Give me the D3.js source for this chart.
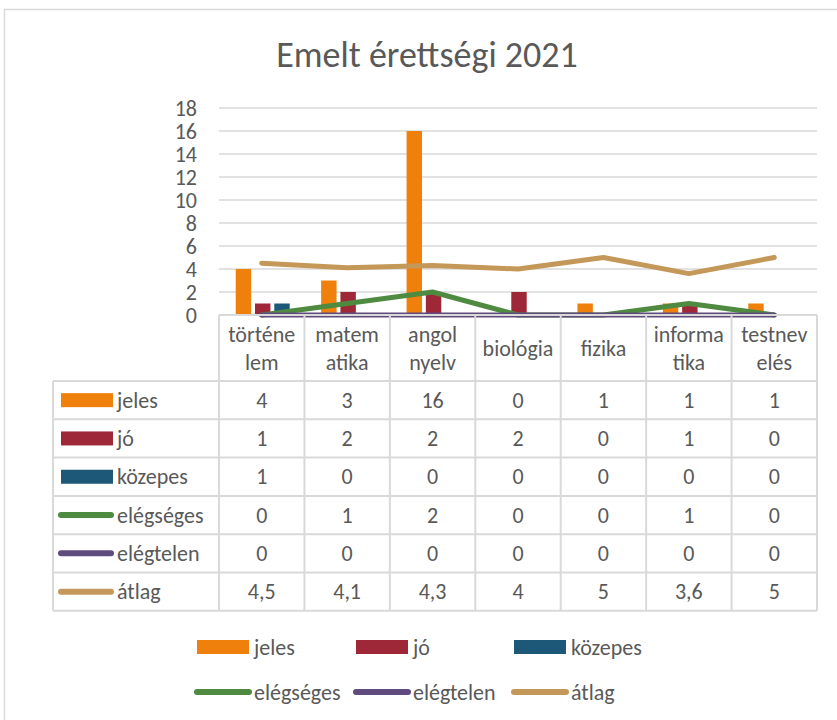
<!DOCTYPE html>
<html lang="hu">
<head>
<meta charset="utf-8">
<title>Emelt érettségi 2021</title>
<script src="https://cdn.jsdelivr.net/npm/d3@7"></script>
<style>
  body { margin: 0; background: #fff; }
  svg text { font-family: Carlito, Calibri, Lato, "Liberation Sans", sans-serif; fill: #595959; }
</style>
</head>
<body>
<svg id="chart" width="837" height="720"></svg>
<script>
// subjects, with the way Excel wraps them under the axis
var categories = ["történelem", "matematika", "angol nyelv", "biológia", "fizika", "informatika", "testnevelés"];
var categoryLines = [["történe", "lem"], ["matem", "atika"], ["angol", "nyelv"], ["biológia"], ["fizika"], ["informa", "tika"], ["testnev", "elés"]];

var jeles = [4, 3, 16, 0, 1, 1, 1];
var jo = [1, 2, 2, 2, 0, 1, 0];
var kozepes = [1, 0, 0, 0, 0, 0, 0];
var elegseges = [0, 1, 2, 0, 0, 1, 0];
var elegtelen = [0, 0, 0, 0, 0, 0, 0];
var atlag = [4.5, 4.1, 4.3, 4, 5, 3.6, 5];

var yTicks = [0, 2, 4, 6, 8, 10, 12, 14, 16, 18];

var barSeries = [
  { name: "jeles", values: jeles, color: "#f0800c" },
  { name: "jó", values: jo, color: "#9f2838" },
  { name: "közepes", values: kozepes, color: "#1e5878" }
];
var lineSeries = [
  { name: "elégséges", values: elegseges, color: "#4e8a40" },
  { name: "elégtelen", values: elegtelen, color: "#5f4b7e" },
  { name: "átlag", values: atlag, color: "#c49858" }
];
var allSeries = barSeries.map(function(s) { return Object.assign({ type: "bar" }, s); })
  .concat(lineSeries.map(function(s) { return Object.assign({ type: "line" }, s); }));

var svg = d3.select("#chart");
var grid = "#d9d9d9";
var fs = "22px";

// chart frame
svg.append("rect")
  .attr("x", 4.5).attr("y", 9.5)
  .attr("width", 860).attr("height", 760)
  .attr("fill", "none").attr("stroke", grid).attr("stroke-width", 1.5);

svg.append("text")
  .attr("x", 427).attr("y", 67)
  .attr("text-anchor", "middle")
  .style("font-size", "36px")
  .text("Emelt érettségi 2021");

var x = d3.scaleBand().domain(categories).range([219, 817]);
var y = d3.scaleLinear().domain([0, 18]).range([315, 108]);
var xInner = d3.scaleBand().domain(barSeries.map(function(s) { return s.name; }))
  .range([-26, 28]).paddingInner(0.2);

// gridlines and value labels
svg.append("g").selectAll("line").data(yTicks.slice(1)).join("line")
  .attr("x1", 219).attr("x2", 817)
  .attr("y1", function(d) { return y(d); }).attr("y2", function(d) { return y(d); })
  .attr("stroke", grid).attr("stroke-width", 1.5);

svg.append("g").selectAll("text").data(yTicks).join("text")
  .attr("x", 197).attr("y", function(d) { return y(d); })
  .attr("dy", "0.35em")
  .attr("text-anchor", "end")
  .style("font-size", fs)
  .text(function(d) { return d; });

// bars
barSeries.forEach(function(s) {
  svg.append("g").selectAll("rect").data(s.values).join("rect")
    .attr("x", function(d, i) { return x(categories[i]) + x.bandwidth() / 2 + xInner(s.name); })
    .attr("width", xInner.bandwidth())
    .attr("y", function(d) { return y(d); })
    .attr("height", function(d) { return y(0) - y(d); })
    .attr("fill", s.color);
});

// lines
var line = d3.line()
  .x(function(d, i) { return x(categories[i]) + x.bandwidth() / 2; })
  .y(function(d) { return y(d); });

lineSeries.forEach(function(s) {
  svg.append("path")
    .datum(s.values)
    .attr("d", line)
    .attr("fill", "none")
    .attr("stroke", s.color)
    .attr("stroke-width", 5)
    .attr("stroke-linecap", "round")
    .attr("stroke-linejoin", "round");
});

// data table under the axis
var headTop = 315, rowTop = 381, rowH = 38.3;
var tableLeft = 53, tableRight = 817;
var rowsBottom = rowTop + rowH * allSeries.length;
var table = svg.append("g");

var hLines = [{ y: headTop, x1: 219 }];
allSeries.forEach(function(s, i) { hLines.push({ y: rowTop + rowH * i, x1: tableLeft }); });
hLines.push({ y: rowsBottom, x1: tableLeft });
table.selectAll("line.h").data(hLines).join("line").attr("class", "h")
  .attr("x1", function(d) { return d.x1; }).attr("x2", tableRight)
  .attr("y1", function(d) { return d.y; }).attr("y2", function(d) { return d.y; })
  .attr("stroke", grid).attr("stroke-width", 2);

var vLines = categories.map(function(c) { return { x: x(c), y1: headTop }; });
vLines.push({ x: tableRight, y1: headTop });
vLines.push({ x: tableLeft, y1: rowTop });
table.selectAll("line.v").data(vLines).join("line").attr("class", "v")
  .attr("x1", function(d) { return d.x; }).attr("x2", function(d) { return d.x; })
  .attr("y1", function(d) { return d.y1; }).attr("y2", rowsBottom)
  .attr("stroke", grid).attr("stroke-width", 2);

// category headers
categoryLines.forEach(function(lines, i) {
  var cx = x(categories[i]) + x.bandwidth() / 2;
  var t = table.append("text")
    .attr("x", cx)
    .attr("text-anchor", "middle")
    .style("font-size", fs);
  lines.forEach(function(l, j) {
    t.append("tspan")
      .attr("x", cx)
      .attr("y", 348 + (j - (lines.length - 1) / 2) * 28)
      .attr("dy", "0.35em")
      .text(l);
  });
});

var fmt = function(v) { return String(v).replace(".", ","); };

allSeries.forEach(function(s, r) {
  var cy = rowTop + rowH * r + rowH / 2;
  if (s.type === "bar") {
    table.append("rect").attr("x", 61).attr("y", cy - 7)
      .attr("width", 52).attr("height", 14).attr("fill", s.color);
  } else {
    table.append("line").attr("x1", 61).attr("x2", 111)
      .attr("y1", cy).attr("y2", cy)
      .attr("stroke", s.color).attr("stroke-width", 6).attr("stroke-linecap", "round");
  }
  table.append("text").attr("x", 117).attr("y", cy).attr("dy", "0.35em")
    .style("font-size", fs).text(s.name);
  table.append("g").selectAll("text").data(s.values).join("text")
    .attr("x", function(d, i) { return x(categories[i]) + x.bandwidth() / 2; })
    .attr("y", cy).attr("dy", "0.35em")
    .attr("text-anchor", "middle")
    .style("font-size", fs)
    .text(fmt);
});

// legend at the bottom
var legendX = [197, 356, 514];
var legendY = [647, 692];
var legend = svg.append("g");
allSeries.forEach(function(s, i) {
  var lx = legendX[i % 3], ly = legendY[Math.floor(i / 3)];
  if (s.type === "bar") {
    legend.append("rect").attr("x", lx).attr("y", ly - 7)
      .attr("width", 52).attr("height", 14).attr("fill", s.color);
  } else {
    legend.append("line").attr("x1", lx).attr("x2", lx + 52)
      .attr("y1", ly).attr("y2", ly)
      .attr("stroke", s.color).attr("stroke-width", 6).attr("stroke-linecap", "round");
  }
  legend.append("text").attr("x", lx + 57).attr("y", ly).attr("dy", "0.35em")
    .style("font-size", fs).text(s.name);
});
</script>
</body>
</html>
